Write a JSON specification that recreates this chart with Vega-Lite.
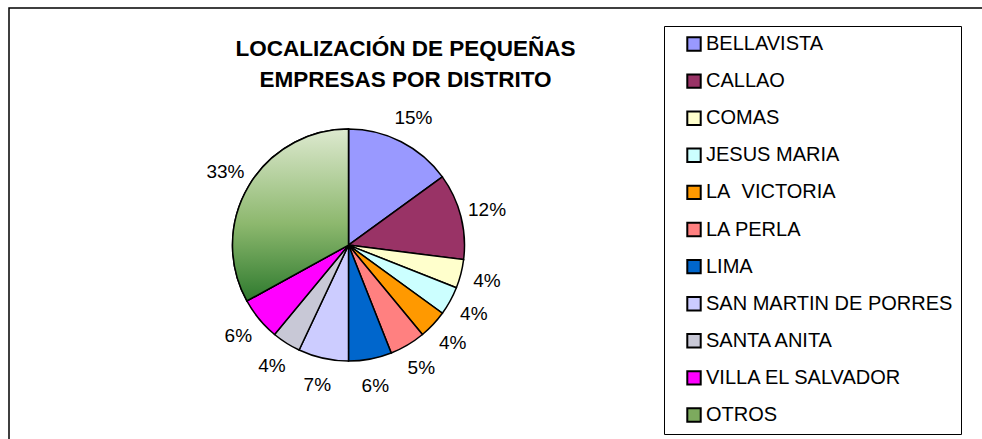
{
  "$schema": "https://vega.github.io/schema/vega-lite/v6.json",
  "autosize": {"type": "fit", "contains": "padding"},
  "width": 982,
  "height": 439,
  "padding": {"left": 9, "top": 8, "right": -4, "bottom": -4},
  "background": "white",
  "view": {"stroke": "black", "strokeWidth": 1.5},
  "config": {"view": {"stroke": "black", "strokeWidth": 1.5}, "font": "Liberation Sans"},
  "title": {
    "text": ["LOCALIZACIÓN DE PEQUEÑAS", "EMPRESAS POR DISTRITO"],
    "font": "Liberation Sans",
    "fontSize": 22.5,
    "fontWeight": "bold",
    "color": "black",
    "lineHeight": 31,
    "anchor": "middle",
    "dx": -92,
    "dy": 83,
    "offset": 0
  },
  "data": {
    "values": [
      {"distrito": "BELLAVISTA", "pct": 15, "label": "15%", "orden": 1},
      {"distrito": "CALLAO", "pct": 12, "label": "12%", "orden": 2},
      {"distrito": "COMAS", "pct": 4, "label": "4%", "orden": 3},
      {"distrito": "JESUS MARIA", "pct": 4, "label": "4%", "orden": 4},
      {"distrito": "LA\u00a0 VICTORIA", "pct": 4, "label": "4%", "orden": 5},
      {"distrito": "LA PERLA", "pct": 5, "label": "5%", "orden": 6},
      {"distrito": "LIMA", "pct": 6, "label": "6%", "orden": 7},
      {"distrito": "SAN MARTIN DE PORRES", "pct": 7, "label": "7%", "orden": 8},
      {"distrito": "SANTA ANITA", "pct": 4, "label": "4%", "orden": 9},
      {"distrito": "VILLA EL SALVADOR", "pct": 6, "label": "6%", "orden": 10},
      {"distrito": "OTROS", "pct": 33, "label": "33%", "orden": 11}
    ]
  },
  "layer": [
    {
      "mark": {
        "type": "arc",
        "outerRadius": 116,
        "stroke": "black",
        "strokeWidth": 1.5,
        "opacity": 1,
        "x": {"expr": "width * 0.3475"},
        "y": {"expr": "height * 0.545"}
      },
      "encoding": {
        "theta": {"field": "pct", "type": "quantitative", "stack": true},
        "order": {"field": "orden", "type": "quantitative"},
        "color": {
          "field": "distrito",
          "type": "nominal",
          "sort": ["BELLAVISTA", "CALLAO", "COMAS", "JESUS MARIA", "LA\u00a0 VICTORIA", "LA PERLA", "LIMA", "SAN MARTIN DE PORRES", "SANTA ANITA", "VILLA EL SALVADOR", "OTROS"],
          "scale": {
            "domain": ["BELLAVISTA", "CALLAO", "COMAS", "JESUS MARIA", "LA\u00a0 VICTORIA", "LA PERLA", "LIMA", "SAN MARTIN DE PORRES", "SANTA ANITA", "VILLA EL SALVADOR", "OTROS"],
            "range": ["#9999FF", "#993366", "#FFFFCC", "#CCFFFF", "#FF9900", "#FF8080", "#0066CC", "#CCCCFF", "#C8C8D6", "#FF00FF", "#7DAA5E"]
          },
          "legend": {
            "orient": "none",
            "legendX": 655,
            "legendY": 18,
            "title": null,
            "strokeColor": "black",
            "padding": 8,
            "symbolType": "square",
            "symbolSize": 180,
            "symbolStrokeColor": "black",
            "symbolStrokeWidth": 2,
            "symbolOpacity": 1,
            "symbolOffset": 12,
            "labelFont": "Liberation Sans",
            "labelFontSize": 20,
            "labelColor": "black",
            "labelOffset": 2,
            "labelLimit": 400,
            "rowPadding": 15.1
          }
        }
      }
    },
    {
      "transform": [
        {"stack": "pct", "groupby": [], "sort": [{"field": "orden"}], "as": ["s0", "s1"]},
        {"filter": "datum.distrito === 'OTROS'"}
      ],
      "mark": {
        "type": "arc",
        "outerRadius": 116,
        "stroke": "black",
        "strokeWidth": 1.5,
        "opacity": 1,
        "fill": {
          "gradient": "linear",
          "x1": 0, "y1": 0, "x2": 0, "y2": 1,
          "stops": [
            {"offset": 0, "color": "#DDE9CF"},
            {"offset": 0.55, "color": "#8DB86E"},
            {"offset": 1, "color": "#2E7A2E"}
          ]
        },
        "x": {"expr": "width * 0.3475"},
        "y": {"expr": "height * 0.545"}
      },
      "encoding": {
        "theta": {"field": "s0", "type": "quantitative"},
        "theta2": {"field": "s1"}
      }
    },
    {
      "mark": {
        "type": "text",
        "radius": 143,
        "font": "Liberation Sans",
        "fontSize": 19,
        "color": "black",
        "x": {"expr": "width * 0.3475"},
        "y": {"expr": "height * 0.545"}
      },
      "encoding": {
        "theta": {"field": "pct", "type": "quantitative", "stack": true},
        "order": {"field": "orden", "type": "quantitative"},
        "text": {"field": "label", "type": "nominal"}
      }
    }
  ]
}
